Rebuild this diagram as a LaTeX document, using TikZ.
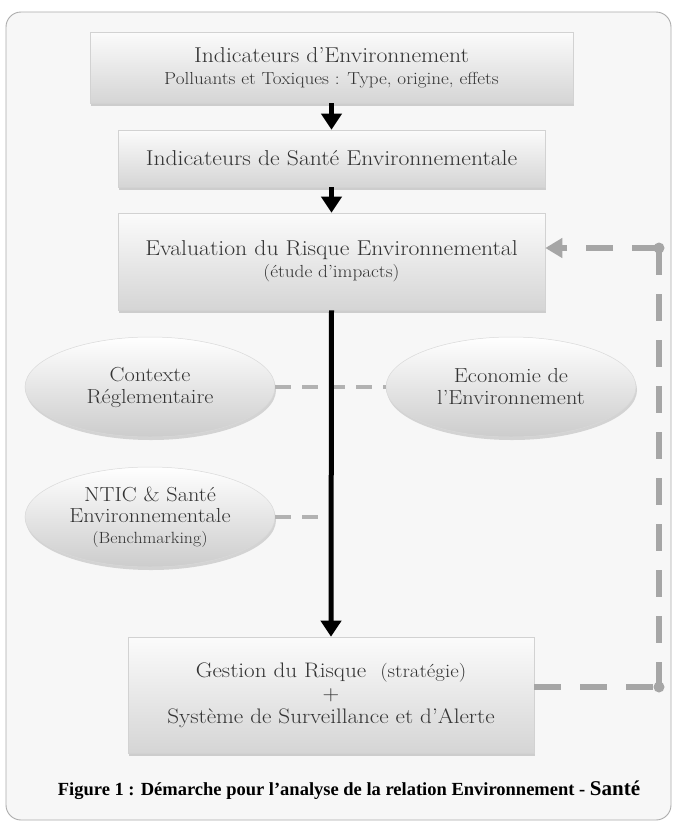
\documentclass[tikz,border=0pt]{standalone}
\usepackage{fontspec}
\setmainfont{Latin Modern Roman}[FakeStretch=1.1]
\newfontfamily\capfont{Liberation Serif}
\usetikzlibrary{arrows.meta,shapes.geometric,shadows}
\begin{document}
\begin{tikzpicture}[x=1pt,y=-1pt,
  box/.style={rectangle, inner sep=0pt, top color=gray!3, bottom color=gray!33,
    draw=gray!35, line width=0.6pt,
    drop shadow={shadow xshift=1pt,shadow yshift=-3pt,opacity=0.35},
    align=center, text=black!80},
  oval/.style={ellipse, inner sep=0pt, minimum width=250pt, minimum height=100pt,
    top color=white, bottom color=gray!40, draw=gray!30, line width=0.5pt,
    drop shadow={shadow xshift=1pt,shadow yshift=-3pt,opacity=0.3},
    align=center, text=black!80},
  big/.style={font=\fontsize{21.5}{23}\selectfont},
  mid/.style={font=\fontsize{20.3}{22}\selectfont},
  flow/.style={line width=5pt, black, -{Triangle[width=20pt,length=16pt]}},
  gdash/.style={line width=4.5pt, gray!60, dash pattern=on 16pt off 11pt},
  loopdash/.style={line width=6.5pt, gray!70, dash pattern=on 27pt off 19pt},
]
\useasboundingbox (0,0) rectangle (673,823);
\fill[white] (0,0) rectangle (673,823);
\draw[draw=gray!65, fill=gray!6, line width=0.9pt, rounded corners=15pt] (6,12) rectangle (671,820);

% boxes
\node[box, big, minimum width=483pt, minimum height=71pt] (b1) at (331.5,67.5)
  {Indicateurs d’Environnement\\[-1pt]{\fontsize{17.4}{20}\selectfont Polluants et Toxiques : Type, origine, effets}};
\node[box, big, minimum width=427pt, minimum height=57pt] (b2) at (331.5,158.5)
  {Indicateurs de Santé Environnementale};
\node[box, big, minimum width=427pt, minimum height=97pt] (b3) at (331.5,261.5)
  {Evaluation du Risque Environnemental\\[-1pt]{\fontsize{17.5}{20}\selectfont (étude d’impacts)}};
\node[box, font=\fontsize{21}{23}\selectfont, minimum width=406pt, minimum height=116pt] (b4) at (331,695)
  {Gestion du Risque \ {\fontsize{19}{20}\selectfont (stratégie)}\\+\\Système de Surveillance et d{\char"27}Alerte};

% ovals
\node[oval, mid] (o1) at (150,387) {Contexte\\Réglementaire};
\node[oval, mid] (o2) at (511,387) {Economie de\\l{\char"27}Environnement};
\node[oval, font=\fontsize{20.3}{21}\selectfont] (o3) at (150,517)
  {NTIC \& Santé\\Environnementale\\{\fontsize{16.2}{18}\selectfont (Benchmarking)}};

% dashed links to ovals
\draw[gdash] (o1.east) -- (o2.west);
\draw[gdash] (o3.east) -- (o3.east -| b3.south);

% main flow
\draw[flow] (b1.south) -- (b2.north);
\draw[flow] (b2.south) -- (b3.north);
\draw[flow] (b3.south) -- (b4.north);

% feedback loop
\coordinate (c1) at (659,687);
\coordinate (c2) at (659,248);
\draw[loopdash] (b4.east |- c1) -- (c1);
\draw[loopdash] (c2) -- (c1);
\draw[loopdash, -{Triangle[width=19pt,length=17pt]}] (c2) -- (c2 -| b3.east);
\fill[gray!70] (c1) circle[radius=5.5pt];
\fill[gray!70] (c2) circle[radius=5.5pt];

% caption
\node[font=\capfont\bfseries\fontsize{18.5}{22}\selectfont] (cap) at (349,790)
  {Figure 1 : Démarche pour l’analyse de la relation Environnement - {\fontsize{21}{22}\selectfont Santé}};
\end{tikzpicture}
\end{document}
